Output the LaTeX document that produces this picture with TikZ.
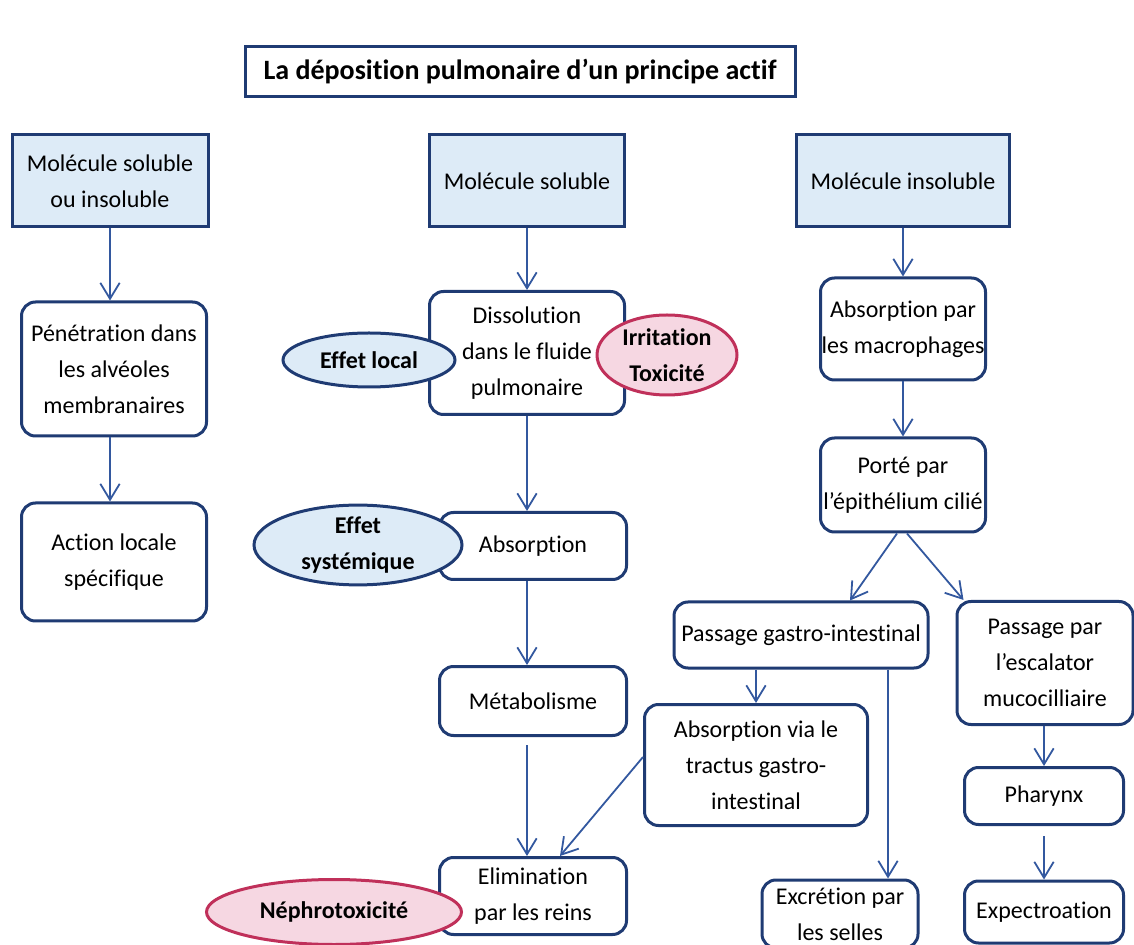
\documentclass[tikz,border=0pt]{standalone}
\usepackage{fontspec}
\setmainfont{Carlito}[Ligatures={NoCommon}]
\usetikzlibrary{arrows.meta,shapes.geometric,calc}
\definecolor{depnavy}{HTML}{1F3B73}
\definecolor{depsky}{HTML}{DDEBF7}
\definecolor{depred}{HTML}{C0305A}
\definecolor{deppink}{HTML}{F6D7E2}
\definecolor{deparrow}{HTML}{33589F}
\newcommand{\depfont}{\fontsize{12}{18}\selectfont}
\tikzset{
  head/.style={draw=depnavy, fill=depsky, line width=1.5pt, align=center, font=\depfont, inner sep=0pt},
  stepbox/.style={draw=depnavy, fill=white, line width=1.5pt, rounded corners=7pt, align=center, font=\depfont, inner sep=0pt},
  effblue/.style={ellipse, draw=depnavy, fill=depsky, line width=1.5pt, align=center, font=\depfont\bfseries, inner sep=0pt},
  effpink/.style={ellipse, draw=depred, fill=deppink, line width=1.5pt, align=center, font=\depfont\bfseries, inner sep=0pt},
  arr/.style={-{Straight Barb[length=2.8mm,width=3.4mm]}, line width=0.9pt, color=deparrow},
}
\begin{document}
\begin{tikzpicture}[x=0.5pt,y=-0.5pt]
  \clip (0,0) rectangle (1134,945);
  % title
  \node[draw=depnavy, fill=white, line width=1.5pt, minimum width=275pt, minimum height=25pt,
        font=\fontsize{14}{16}\selectfont\bfseries] (title) at (520,72) {La déposition pulmonaire d’un principe actif};
  % three starting molecules
  \node[head, minimum width=98pt, minimum height=46pt] (molA) at (110,181) {Molécule soluble\\ou insoluble};
  \node[head, minimum width=97.5pt, minimum height=46pt] (molB) at (527,181) {Molécule soluble};
  \node[head, minimum width=106.5pt, minimum height=46pt] (molC) at (903,181) {Molécule insoluble};
  % left column
  \node[stepbox, minimum width=92.5pt, minimum height=67pt] (penet) at (114,369) {Pénétration dans\\les alvéoles\\membranaires};
  \node[stepbox, minimum width=92.5pt, minimum height=59pt] (action) at (114,562) {Action locale\\spécifique};
  % middle column
  \node[stepbox, minimum width=97.5pt, minimum height=61.5pt] (dissol) at (527,353) {Dissolution\\dans le fluide\\pulmonaire};
  \node[stepbox, minimum width=93.5pt, minimum height=33.5pt] (absorp) at (533,546) {Absorption};
  \node[stepbox, minimum width=93.5pt, minimum height=34.5pt] (metab) at (533,701) {Métabolisme};
  \node[stepbox, minimum width=93.5pt, minimum height=38.5pt] (elim) at (533,896) {Elimination\\par les reins};
  % right column
  \node[stepbox, minimum width=82.5pt, minimum height=51pt] (absmac) at (903,329) {Absorption par\\les macrophages};
  \node[stepbox, minimum width=82.5pt, minimum height=47pt] (porte) at (903,485) {Porté par\\l’épithélium cilié};
  \node[stepbox, minimum width=127pt, minimum height=33pt] (pgi) at (801,635) {Passage gastro-intestinal};
  \node[stepbox, minimum width=88pt, minimum height=61.5pt] (pesc) at (1045,663) {Passage par\\l’escalator\\mucocilliaire};
  \node[stepbox, minimum width=111.5pt, minimum height=60.5pt] (absvia) at (756,765) {Absorption via le\\tractus gastro-\\intestinal};
  \node[stepbox, minimum width=78pt, minimum height=34pt] (excr) at (840,914) {Excrétion par\\les selles};
  \node[stepbox, minimum width=79.5pt, minimum height=28.5pt] (pharynx) at (1044,796) {Pharynx};
  \node[stepbox, minimum width=79.5pt, minimum height=31pt] (expect) at (1044,912) {Expectroation};
  % effects
  \node[effblue, minimum width=86pt, minimum height=27pt] (efflocal) at (369,360) {Effet local};
  \node[effpink, minimum width=70pt, minimum height=40pt] (irrit) at (667,355) {Irritation\\Toxicité};
  \node[effblue, minimum width=104pt, minimum height=39.5pt] (effsys) at (358,545) {Effet\\systémique};
  \node[effpink, minimum width=127.5pt, minimum height=32.5pt] (nephro) at (334,912) {Néphrotoxicité};
  % connectors
  \draw[arr] (molA.south) -- (molA.south |- penet.north);
  \draw[arr] (molA.south |- penet.south) -- (molA.south |- action.north);
  \draw[arr] (molB) -- (dissol);
  \draw[arr] (dissol.south) -- (dissol.south |- absorp.north);
  \draw[arr] (absorp.south -| dissol.south) -- (metab.north -| dissol.south);
  \draw[arr, shorten <=4pt] (metab.south -| dissol.south) -- (elim.north -| dissol.south);
  \draw[arr] ($(absvia.west)+(0,-8)$) -- ($(elim.north)+(27,0)$);
  \draw[arr] (molC) -- (absmac);
  \draw[arr] (absmac) -- (porte);
  \draw[arr] ($(porte.south)+(-6,0)$) -- ($(pgi.north)+(49,0)$);
  \draw[arr] ($(porte.south)+(4,0)$) -- ($(pesc.north west)+(8,0)$);
  \draw[arr] (pgi.south -| absvia.north) -- (absvia.north);
  \draw[arr] ($(pgi.south)+(87,0)$) -- ($(excr.north)+(48,0)$);
  \draw[arr] (pesc.south -| pharynx.north) -- (pharynx.north);
  \draw[arr, shorten <=5pt] (pharynx) -- (expect);
\end{tikzpicture}
\end{document}
